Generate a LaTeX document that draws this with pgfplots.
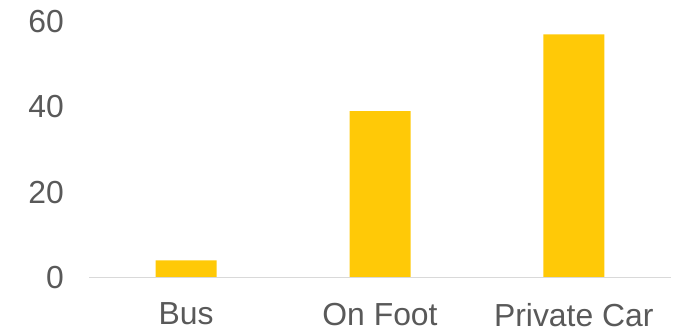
\documentclass[border=0pt]{standalone}
\usepackage{pgfplots}
\pgfplotsset{compat=1.18}
\usepackage{fontspec}
\setmainfont{Liberation Sans}
\definecolor{barc}{HTML}{FFC907}
\definecolor{txt}{HTML}{595959}
\definecolor{axl}{HTML}{D9D9D9}
\begin{document}
\begin{tikzpicture}[x=1bp,y=1bp]
\begin{axis}[
  at={(89.3bp,53.5bp)}, anchor=south west,
  scale only axis,
  width=581.4bp, height=255.8bp,
  xmin=-0.5, xmax=2.5, ymin=0, ymax=60,
  ytick={0,20,40,60},
  xtick={0,1,2},
  xticklabels={Bus,On Foot,Private Car},
  axis line style={draw=none},
  major tick length=0pt,
  tick style={draw=none},
  tick label style={font=\fontsize{32}{36}\selectfont, text=txt},
  /pgf/number format/assume math mode=true,
  yticklabel style={xshift=-22bp},
  xticklabel style={yshift=-22bp},
  clip=false,
]
\addplot[ybar, bar width=61bp, fill=barc, draw=none] coordinates {(0,4) (1,39) (2,57)};
\draw[axl, line width=1bp] (axis cs:-0.5,0) -- (axis cs:2.5,0);
\end{axis}
\pgfresetboundingbox
\path[use as bounding box] (0,0) rectangle (679bp,331bp);
\end{tikzpicture}
\end{document}
